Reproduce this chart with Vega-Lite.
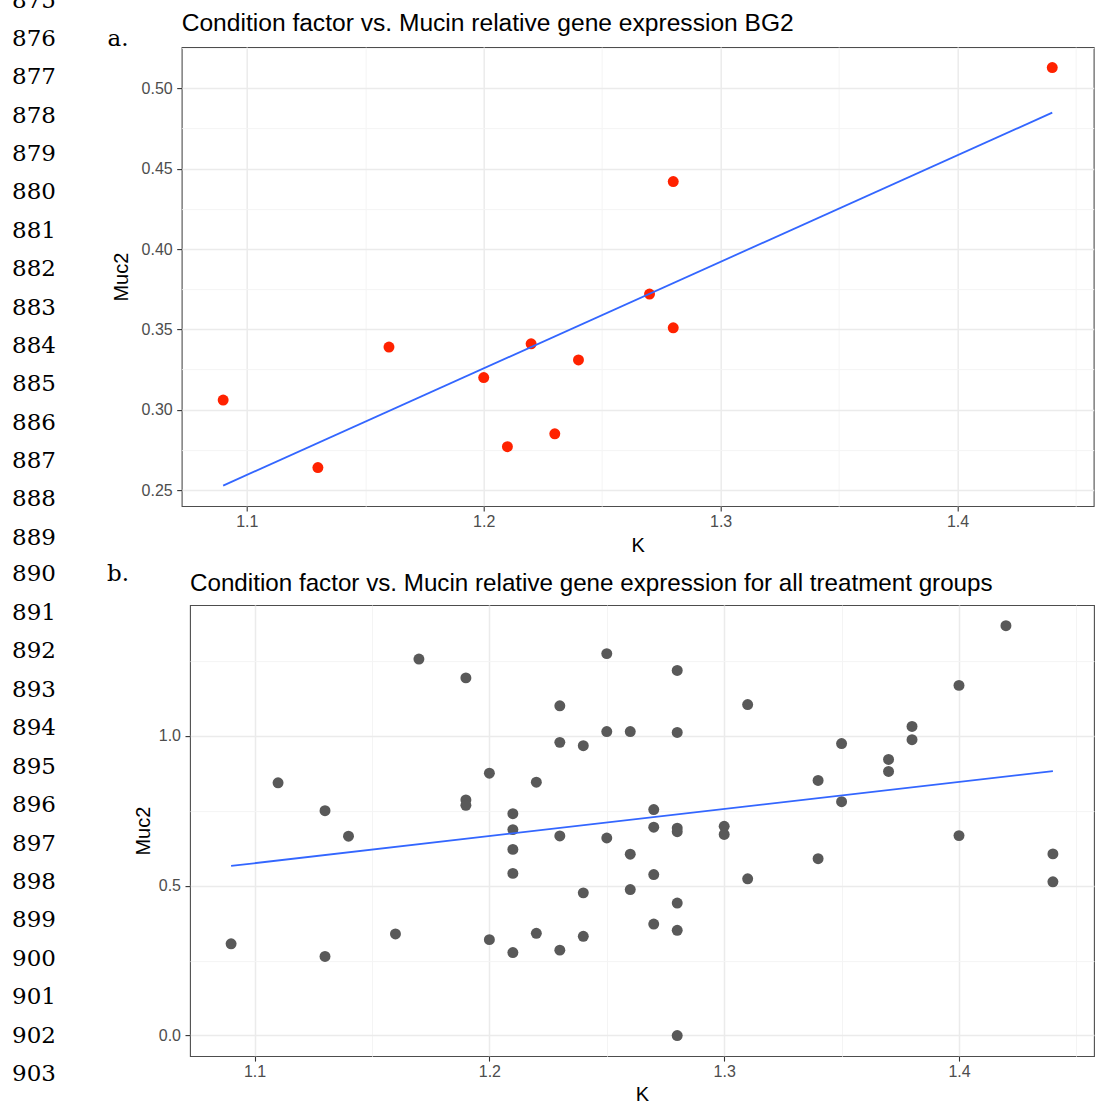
{
  "$schema": "https://vega.github.io/schema/vega-lite/v6.json",
  "background": "white",
  "padding": {"left": 0, "top": -10.9, "right": 0, "bottom": 0},
  "autosize": {"type": "pad"},
  "spacing": 7,
  "vconcat": [
    {
      "bounds": "flush",
      "spacing": 81.7,
      "hconcat": [
        {
          "width": 100,
          "height": 459,
          "view": {"stroke": null},
          "data": {"values": [
            {"label": "875", "line": 875, "kind": "line number"},
            {"label": "876", "line": 876, "kind": "line number"},
            {"label": "877", "line": 877, "kind": "line number"},
            {"label": "878", "line": 878, "kind": "line number"},
            {"label": "879", "line": 879, "kind": "line number"},
            {"label": "880", "line": 880, "kind": "line number"},
            {"label": "881", "line": 881, "kind": "line number"},
            {"label": "882", "line": 882, "kind": "line number"},
            {"label": "883", "line": 883, "kind": "line number"},
            {"label": "884", "line": 884, "kind": "line number"},
            {"label": "885", "line": 885, "kind": "line number"},
            {"label": "886", "line": 886, "kind": "line number"},
            {"label": "887", "line": 887, "kind": "line number"},
            {"label": "888", "line": 888, "kind": "line number"},
            {"label": "889", "line": 889, "kind": "line number"},
            {"label": "a.", "line": 876, "kind": "panel label"}
          ]},
          "mark": {"type": "text", "font": "DejaVu Serif", "fontSize": 23, "baseline": "alphabetic", "align": "center", "color": "#000000"},
          "encoding": {
            "x": {"field": "kind", "type": "nominal", "scale": {"type": "point", "domain": ["line number", "panel label"], "range": [34, 118], "padding": 0}, "axis": null},
            "y": {"field": "line", "type": "quantitative", "scale": {"domain": [876.031, 887.992], "reverse": true, "zero": false, "nice": false}, "axis": null},
            "text": {"field": "label", "type": "nominal"}
          }
        },
        {
          "width": 912,
          "height": 459,
          "title": {"text": "Condition factor vs. Mucin relative gene expression BG2", "fontSize": 24.6, "baseline": "alphabetic", "offset": 16.2, "dy": 24.6},
          "data": {"values": [
            {"K": 1.09, "Muc2": 0.306},
            {"K": 1.13, "Muc2": 0.264},
            {"K": 1.16, "Muc2": 0.339},
            {"K": 1.20, "Muc2": 0.320},
            {"K": 1.21, "Muc2": 0.277},
            {"K": 1.22, "Muc2": 0.341},
            {"K": 1.23, "Muc2": 0.285},
            {"K": 1.24, "Muc2": 0.331},
            {"K": 1.27, "Muc2": 0.372},
            {"K": 1.28, "Muc2": 0.351},
            {"K": 1.28, "Muc2": 0.442},
            {"K": 1.44, "Muc2": 0.513}
          ]},
          "layer": [
            {
              "mark": {"type": "circle", "size": 120, "opacity": 1, "color": "#FF2200"},
              "encoding": {
                "x": {"field": "K", "type": "quantitative", "scale": {"domain": [1.0725, 1.4575], "nice": false, "zero": false},
                  "axis": {"title": "K", "titlePadding": 6, "labelPadding": 2, "values": [1.1, 1.15, 1.2, 1.25, 1.3, 1.35, 1.4, 1.45],
                    "labelExpr": "abs(datum.value*10 - round(datum.value*10)) < 0.001 ? format(datum.value, '.1f') : ''",
                    "tickOpacity": {"condition": {"test": "abs(datum.value*10 - round(datum.value*10)) < 0.001", "value": 1}, "value": 0},
                    "gridColor": {"condition": {"test": "abs(datum.value*10 - round(datum.value*10)) < 0.001", "value": "#EBEBEB"}, "value": "#F4F4F4"},
                    "gridWidth": {"condition": {"test": "abs(datum.value*10 - round(datum.value*10)) < 0.001", "value": 1.5}, "value": 1}}},
                "y": {"field": "Muc2", "type": "quantitative", "scale": {"domain": [0.24, 0.5257], "nice": false, "zero": false},
                  "axis": {"title": "Muc2", "titlePadding": 10, "values": [0.25, 0.275, 0.3, 0.325, 0.35, 0.375, 0.4, 0.425, 0.45, 0.475, 0.5, 0.525],
                    "labelExpr": "abs(datum.value*20 - round(datum.value*20)) < 0.001 ? format(datum.value, '.2f') : ''",
                    "tickOpacity": {"condition": {"test": "abs(datum.value*20 - round(datum.value*20)) < 0.001", "value": 1}, "value": 0},
                    "gridColor": {"condition": {"test": "abs(datum.value*20 - round(datum.value*20)) < 0.001", "value": "#EBEBEB"}, "value": "#F4F4F4"},
                    "gridWidth": {"condition": {"test": "abs(datum.value*20 - round(datum.value*20)) < 0.001", "value": 1.5}, "value": 1}}}
              }
            },
            {
              "transform": [{"regression": "Muc2", "on": "K"}],
              "mark": {"type": "line", "color": "#3366FF", "strokeWidth": 1.8},
              "encoding": {
                "x": {"field": "K", "type": "quantitative"},
                "y": {"field": "Muc2", "type": "quantitative"}
              }
            }
          ]
        }
      ]
    },
    {
      "bounds": "flush",
      "spacing": 90,
      "hconcat": [
        {
          "width": 100,
          "height": 451,
          "view": {"stroke": null},
          "data": {"values": [
            {"label": "890", "line": 890, "kind": "line number"},
            {"label": "891", "line": 891, "kind": "line number"},
            {"label": "892", "line": 892, "kind": "line number"},
            {"label": "893", "line": 893, "kind": "line number"},
            {"label": "894", "line": 894, "kind": "line number"},
            {"label": "895", "line": 895, "kind": "line number"},
            {"label": "896", "line": 896, "kind": "line number"},
            {"label": "897", "line": 897, "kind": "line number"},
            {"label": "898", "line": 898, "kind": "line number"},
            {"label": "899", "line": 899, "kind": "line number"},
            {"label": "900", "line": 900, "kind": "line number"},
            {"label": "901", "line": 901, "kind": "line number"},
            {"label": "902", "line": 902, "kind": "line number"},
            {"label": "903", "line": 903, "kind": "line number"},
            {"label": "b.", "line": 890, "kind": "panel label"}
          ]},
          "mark": {"type": "text", "font": "DejaVu Serif", "fontSize": 23, "baseline": "alphabetic", "align": "center", "color": "#000000"},
          "encoding": {
            "x": {"field": "kind", "type": "nominal", "scale": {"type": "point", "domain": ["line number", "panel label"], "range": [34, 118], "padding": 0}, "axis": null},
            "y": {"field": "line", "type": "quantitative", "scale": {"domain": [890.615, 902.349], "reverse": true, "zero": false, "nice": false}, "axis": null},
            "text": {"field": "label", "type": "nominal"}
          }
        },
        {
          "width": 904,
          "height": 451,
          "title": {"text": "Condition factor vs. Mucin relative gene expression for all treatment groups", "fontSize": 24.2, "baseline": "alphabetic", "offset": 14.4, "dy": 24.2},
          "data": {"values": [
            {"K": 1.09, "Muc2": 0.306},
            {"K": 1.11, "Muc2": 0.843},
            {"K": 1.13, "Muc2": 0.750},
            {"K": 1.13, "Muc2": 0.264},
            {"K": 1.14, "Muc2": 0.665},
            {"K": 1.16, "Muc2": 0.339},
            {"K": 1.17, "Muc2": 1.256},
            {"K": 1.19, "Muc2": 1.193},
            {"K": 1.19, "Muc2": 0.786},
            {"K": 1.19, "Muc2": 0.768},
            {"K": 1.20, "Muc2": 0.875},
            {"K": 1.20, "Muc2": 0.320},
            {"K": 1.21, "Muc2": 0.740},
            {"K": 1.21, "Muc2": 0.687},
            {"K": 1.21, "Muc2": 0.621},
            {"K": 1.21, "Muc2": 0.541},
            {"K": 1.21, "Muc2": 0.277},
            {"K": 1.22, "Muc2": 0.845},
            {"K": 1.22, "Muc2": 0.341},
            {"K": 1.23, "Muc2": 1.100},
            {"K": 1.23, "Muc2": 0.978},
            {"K": 1.23, "Muc2": 0.666},
            {"K": 1.23, "Muc2": 0.285},
            {"K": 1.24, "Muc2": 0.967},
            {"K": 1.24, "Muc2": 0.476},
            {"K": 1.24, "Muc2": 0.331},
            {"K": 1.25, "Muc2": 1.274},
            {"K": 1.25, "Muc2": 1.014},
            {"K": 1.25, "Muc2": 0.659},
            {"K": 1.26, "Muc2": 1.014},
            {"K": 1.26, "Muc2": 0.605},
            {"K": 1.26, "Muc2": 0.487},
            {"K": 1.27, "Muc2": 0.754},
            {"K": 1.27, "Muc2": 0.695},
            {"K": 1.27, "Muc2": 0.537},
            {"K": 1.27, "Muc2": 0.372},
            {"K": 1.28, "Muc2": 1.218},
            {"K": 1.28, "Muc2": 1.011},
            {"K": 1.28, "Muc2": 0.692},
            {"K": 1.28, "Muc2": 0.680},
            {"K": 1.28, "Muc2": 0.442},
            {"K": 1.28, "Muc2": 0.351},
            {"K": 1.28, "Muc2": 0.0},
            {"K": 1.30, "Muc2": 0.698},
            {"K": 1.30, "Muc2": 0.671},
            {"K": 1.31, "Muc2": 1.104},
            {"K": 1.31, "Muc2": 0.523},
            {"K": 1.34, "Muc2": 0.851},
            {"K": 1.34, "Muc2": 0.590},
            {"K": 1.35, "Muc2": 0.974},
            {"K": 1.35, "Muc2": 0.780},
            {"K": 1.37, "Muc2": 0.921},
            {"K": 1.37, "Muc2": 0.881},
            {"K": 1.38, "Muc2": 1.031},
            {"K": 1.38, "Muc2": 0.987},
            {"K": 1.40, "Muc2": 1.168},
            {"K": 1.40, "Muc2": 0.667},
            {"K": 1.42, "Muc2": 1.367},
            {"K": 1.44, "Muc2": 0.606},
            {"K": 1.44, "Muc2": 0.513}
          ]},
          "layer": [
            {
              "mark": {"type": "circle", "size": 120, "opacity": 1, "color": "#595959"},
              "encoding": {
                "x": {"field": "K", "type": "quantitative", "scale": {"domain": [1.0725, 1.4575], "nice": false, "zero": false},
                  "axis": {"title": "K", "titlePadding": 5, "labelPadding": 2, "values": [1.1, 1.15, 1.2, 1.25, 1.3, 1.35, 1.4, 1.45],
                    "labelExpr": "abs(datum.value*10 - round(datum.value*10)) < 0.001 ? format(datum.value, '.1f') : ''",
                    "tickOpacity": {"condition": {"test": "abs(datum.value*10 - round(datum.value*10)) < 0.001", "value": 1}, "value": 0},
                    "gridColor": {"condition": {"test": "abs(datum.value*10 - round(datum.value*10)) < 0.001", "value": "#EBEBEB"}, "value": "#F4F4F4"},
                    "gridWidth": {"condition": {"test": "abs(datum.value*10 - round(datum.value*10)) < 0.001", "value": 1.5}, "value": 1}}},
                "y": {"field": "Muc2", "type": "quantitative", "scale": {"domain": [-0.0684, 1.4358], "nice": false, "zero": false},
                  "axis": {"title": "Muc2", "titlePadding": 5, "values": [0, 0.25, 0.5, 0.75, 1.0, 1.25],
                    "labelExpr": "abs(datum.value*2 - round(datum.value*2)) < 0.001 ? format(datum.value, '.1f') : ''",
                    "tickOpacity": {"condition": {"test": "abs(datum.value*2 - round(datum.value*2)) < 0.001", "value": 1}, "value": 0},
                    "gridColor": {"condition": {"test": "abs(datum.value*2 - round(datum.value*2)) < 0.001", "value": "#EBEBEB"}, "value": "#F4F4F4"},
                    "gridWidth": {"condition": {"test": "abs(datum.value*2 - round(datum.value*2)) < 0.001", "value": 1.5}, "value": 1}}}
              }
            },
            {
              "transform": [{"regression": "Muc2", "on": "K"}],
              "mark": {"type": "line", "color": "#3366FF", "strokeWidth": 1.8},
              "encoding": {
                "x": {"field": "K", "type": "quantitative"},
                "y": {"field": "Muc2", "type": "quantitative"}
              }
            }
          ]
        }
      ]
    }
  ],
  "config": {
    "font": "Liberation Sans",
    "view": {"stroke": "#4D4D4D", "strokeWidth": 1.1},
    "axis": {"domain": false, "tickColor": "#333333", "tickWidth": 1.1, "tickSize": 5, "labelColor": "#4D4D4D", "labelFont": "Liberation Sans", "labelFontSize": 16, "labelPadding": 4.5, "titleFont": "Liberation Sans", "titleFontSize": 20, "titleFontWeight": "normal", "titleColor": "#000000"},
    "title": {"font": "Liberation Sans", "fontWeight": "normal", "color": "#000000", "anchor": "start", "frame": "group"}
  }
}
